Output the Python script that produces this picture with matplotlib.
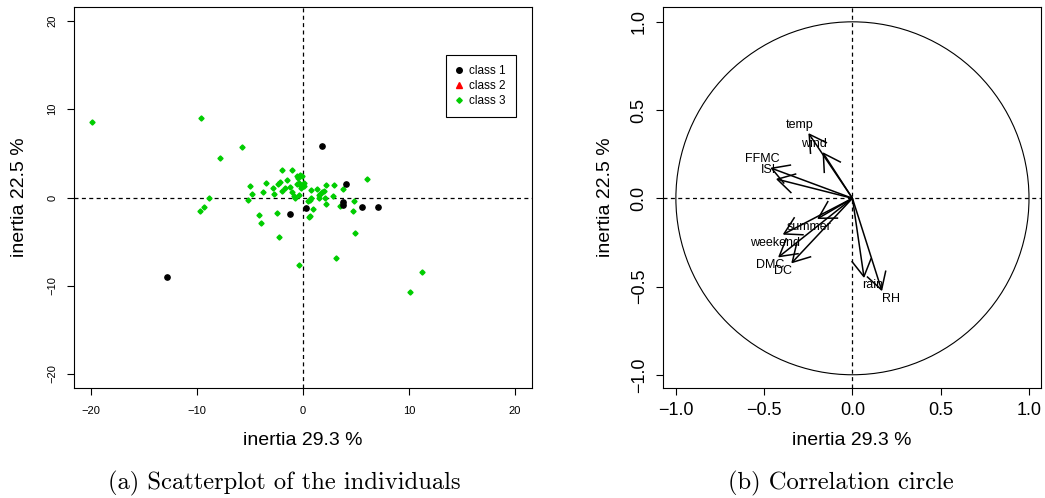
import numpy as np
import matplotlib
matplotlib.use("Agg")
import matplotlib.pyplot as plt
from matplotlib.lines import Line2D
from matplotlib.patches import Circle

plt.rcParams['font.family'] = ['Liberation Sans', 'DejaVu Sans']

# ---------------- data ----------------
class1_x = [1.79, 4.09, 3.77, 3.77, 5.60, 7.04, 0.28, -1.19, -12.83]
class1_y = [5.81, 1.51, -0.49, -0.87, -1.09, -1.09, -1.21, -1.89, -8.98]

class3_x = [-19.94, -9.62, -5.72, -7.86, -8.87, -9.31, -9.75, 6.00, 4.93, 3.14,
            -0.35, 11.23, 10.13, -2.30, -3.92, -4.18, -2.45,
            -5.03, -4.81, -5.19, -3.80, -3.46, -2.77, -2.83, -2.36, -2.20, -1.98,
            -1.07, -1.51, -1.98, -1.73, -1.19, -1.04, -0.88, -0.79, -0.57, -0.31,
            -0.09, -0.50, -0.41, -0.25, -0.57, 0.06, -0.16, 0.13, -0.35, 0.47,
            0.63, 0.79, 0.97, 0.69, 0.60, 0.79, 1.32, 1.60, 1.79, 1.95,
            2.17, 2.11, 2.14, 1.54, 1.48, 2.80, 2.89, 3.77, 3.52, 4.81, 4.75]
class3_y = [8.53, 8.98, 5.70, 4.45, 0.00, -1.13, -1.55, 2.08, -4.08, -6.87,
            -7.62, -8.42, -10.72, -4.47, -2.94, -2.00, -1.77,
            1.36, 0.42, -0.30, 0.57, 1.66, 0.45, 1.09, 1.51, 1.77, 3.17,
            3.17, 1.96, 0.72, 1.13, 1.21, 0.57, 0.19, -0.11, 2.45, 2.53,
            2.45, 2.26, 1.62, 1.43, 1.51, 1.70, 1.13, 1.25, 0.26, -0.38,
            -0.26, -0.04, -1.36, -2.08, -2.26, 0.87, 0.91, 0.38, 0.64, 0.72,
            1.43, -0.11, -0.75, 0.00, 0.34, 0.19, 1.43, 0.94, -1.02, -0.38, -1.51]

class_labels = ["class 1", "class 2", "class 3"]

var_names = ["temp", "wind", "FFMC", "ISI", "summer", "weekend", "DMC", "DC", "rain", "RH"]
var_x = [-0.245, -0.165, -0.458, -0.426, -0.193, -0.388, -0.415, -0.341, 0.065, 0.165]
var_y = [0.363, 0.255, 0.170, 0.108, -0.113, -0.202, -0.330, -0.363, -0.444, -0.519]

ticks_left = [-20, -10, 0, 10, 20]
ticklabels_left = ["\u221220", "\u221210", "0", "10", "20"]
ticks_right = [-1.0, -0.5, 0.0, 0.5, 1.0]
ticklabels_right = ["\u22121.0", "\u22120.5", "0.0", "0.5", "1.0"]

xlab = "inertia 29.3 %"
ylab = "inertia 22.5 %"
caption_a = "(a) Scatterplot of the individuals"
caption_b = "(b) Correlation circle"

# ---------------- figure ----------------
W, H = 1045, 498
fig = plt.figure(figsize=(W / 100, H / 100), dpi=100)
axL = fig.add_axes([74 / W, 1 - 388 / H, 458 / W, 381 / H])
axR = fig.add_axes([663 / W, 1 - 388 / H, 378 / W, 381 / H])

green = "#00CD00"
dash = (0, (3.2, 2.7))

for ax in (axL, axR):
    for sp in ax.spines.values():
        sp.set_linewidth(0.8)
    ax.tick_params(direction="out", length=5, width=0.8, color="black")
    ax.axhline(0, color="black", lw=0.9, linestyle=dash, zorder=1)
    ax.axvline(0, color="black", lw=0.9, linestyle=dash, zorder=1)

# ---- left: scatterplot of individuals ----
axL.plot(class3_x, class3_y, linestyle="none", marker="D", ms=2.6,
         color=green, mec=green, zorder=3)
axL.plot(class1_x, class1_y, linestyle="none", marker="o", ms=3.8,
         color="black", zorder=4)
axL.set_xlim(-21.6, 21.6)
axL.set_ylim(-21.6, 21.6)
axL.set_xticks(ticks_left)
axL.set_xticklabels(ticklabels_left, fontsize=8)
axL.set_yticks(ticks_left)
axL.set_yticklabels(ticklabels_left, fontsize=8, rotation=90, va="center")
axL.tick_params(axis="x", pad=8)
axL.tick_params(axis="y", pad=7)

handles = [
    Line2D([], [], linestyle="none", marker="o", ms=4, color="black"),
    Line2D([], [], linestyle="none", marker="^", ms=4.5, color="red"),
    Line2D([], [], linestyle="none", marker="D", ms=2.8, color=green),
]
leg = axL.legend(handles, class_labels, loc="upper left",
                 bbox_to_anchor=(0.812, 0.874), borderaxespad=0,
                 fancybox=False, framealpha=1, edgecolor="black",
                 fontsize=8.5, handlelength=0.6, handletextpad=0.5,
                 borderpad=0.85, labelspacing=0.25)
leg.get_frame().set_linewidth(0.8)

axL.set_xlabel(xlab, fontsize=14)
axL.xaxis.set_label_coords(0.5, (388 - 440) / 381)
axL.xaxis.label.set_va("center")
axL.set_ylabel(ylab, fontsize=14)
axL.yaxis.set_label_coords((20 - 74) / 458, 0.5)
axL.yaxis.label.set_va("center")

# ---- right: correlation circle ----
axR.add_patch(Circle((0, 0), 1, fill=False, edgecolor="black", lw=0.8))
head_len = 0.108
head_ang = np.deg2rad(30)
for name, x, y in zip(var_names, var_x, var_y):
    axR.plot([0, x], [0, y], color="black", lw=1.1, solid_capstyle="butt")
    a = np.arctan2(y, x) + np.pi
    hx = [x + head_len * np.cos(a + head_ang), x, x + head_len * np.cos(a - head_ang)]
    hy = [y + head_len * np.sin(a + head_ang), y, y + head_len * np.sin(a - head_ang)]
    axR.plot(hx, hy, color="black", lw=1.1)
    axR.text(x + 0.052 * np.sign(x), y + 0.05 * np.sign(y), name,
             ha="center", va="center", fontsize=9)

axR.set_xlim(-1.073, 1.068)
axR.set_ylim(-1.075, 1.084)
axR.set_xticks(ticks_right)
axR.set_xticklabels(ticklabels_right, fontsize=13)
axR.set_yticks(ticks_right)
axR.set_yticklabels(ticklabels_right, fontsize=13, rotation=90, va="center")
axR.tick_params(axis="x", pad=5)
axR.tick_params(axis="y", pad=6)

axR.set_xlabel(xlab, fontsize=14)
axR.xaxis.set_label_coords(0.5, (388 - 440) / 381)
axR.xaxis.label.set_va("center")
axR.set_ylabel(ylab, fontsize=14)
axR.yaxis.set_label_coords((606 - 663) / 378, 0.5)
axR.yaxis.label.set_va("center")

# ---- captions ----
fig.text(284 / W, 1 - 483 / H, caption_a, ha="center", va="center",
         fontsize=17.7, family="cmr10")
fig.text(841 / W, 1 - 483 / H, caption_b, ha="center", va="center",
         fontsize=17.7, family="cmr10")

fig.savefig("out.png", dpi=100)
